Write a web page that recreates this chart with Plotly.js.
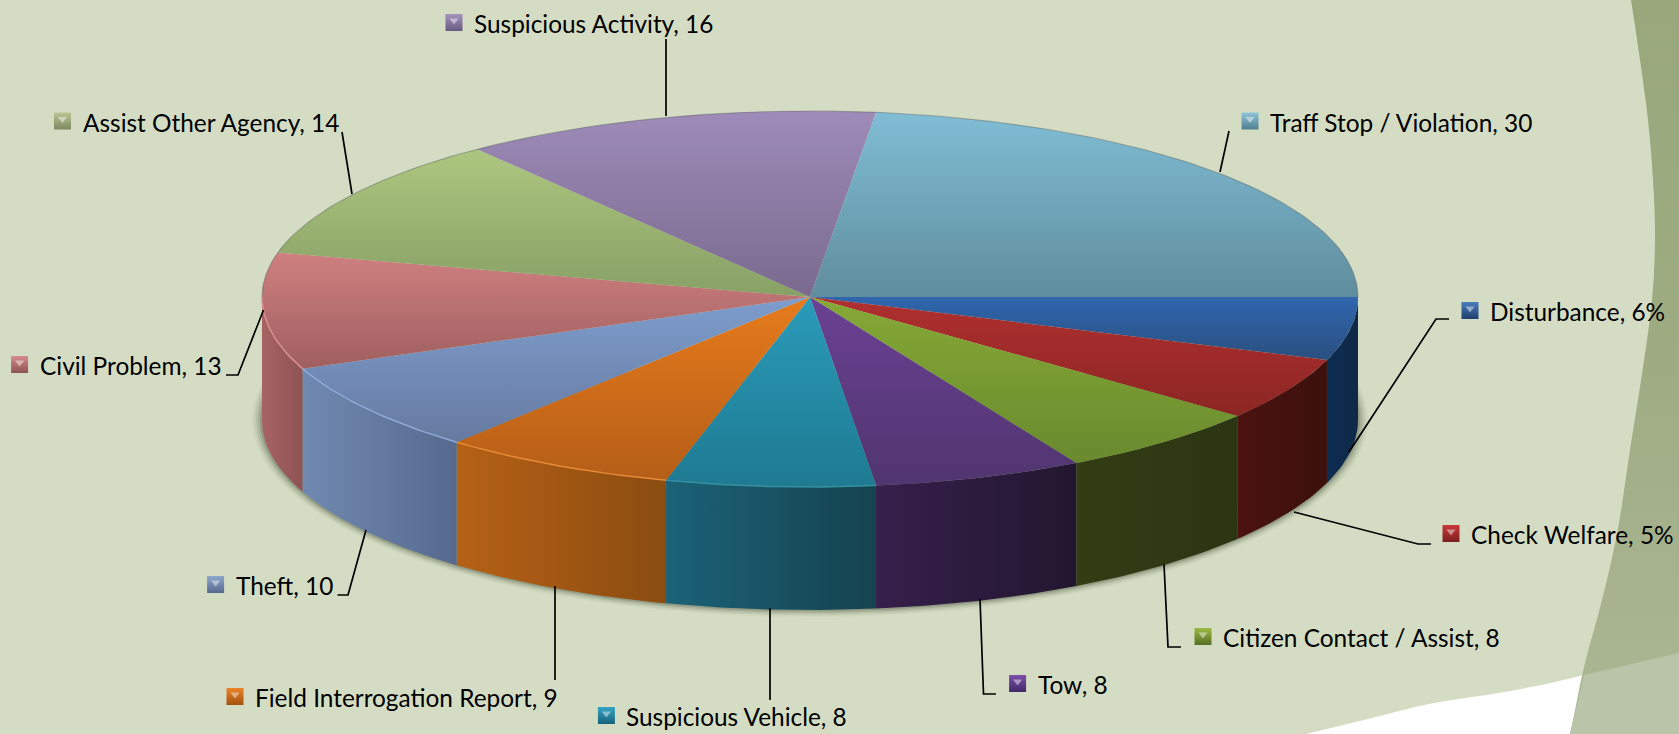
<!DOCTYPE html>
<html>
<head>
<meta charset="utf-8">
<script src="https://cdn.plot.ly/plotly-3.0.1.min.js"></script>
<style>html,body{margin:0;padding:0;background:#d4ddc3;overflow:hidden}#chart{width:1679px;height:734px}</style>
</head>
<body>
<div id="chart"></div>
<script>
// ---------- data ----------
const categories = ["Disturbance","Check Welfare","Citizen Contact / Assist","Tow","Suspicious Vehicle","Field Interrogation Report","Theft","Civil Problem","Assist Other Agency","Suspicious Activity","Traff Stop / Violation"];
const values = [7,7,8,8,8,9,10,13,14,16,30];
const shownValues = ["6%","5%","8","8","8","9","10","13","14","16","30"];

// ---------- style ----------
const faceTop = ["#2f66ad","#b03030","#86a936","#6b4194","#2a9bb9","#e67b1c","#7e9dcd","#cf8080","#adc67f","#9e8bb9","#80bdd5"];
const faceBottom = ["#2a4f80","#8b2623","#698a2e","#50356f","#1f7a92","#b55e18","#667aa0","#a05f60","#87a065","#7a6a8e","#5f8d9d"];
const wallLeft = ["#0c2c52","#4c130f","#333d14","#371f4c","#1b6278","#b66116","#7189b1","#a86363","#000","#000","#000"];
const wallRight = ["#0f2a48","#3b100c","#2c3512","#22172f","#15434f","#8a4c10","#566a8e","#8e5353","#000","#000","#000"];
const rimLight = ["","","","","#35909f","#e88a35","#8eaad8","#d99090","","",""];
const keyTop = ["#4a7dbd","#c9383c","#9cba45","#7a50a8","#35a5c5","#ea8428","#8ea5cc","#d88c8c","#b9c596","#a593bd","#8fc5d8"];
const keyBottom = ["#1f3f6c","#7d1f1f","#556f24","#42296a","#16627c","#a4520f","#566a90","#8e5353","#7d8a60","#675a80","#4f7f90"];

// ---------- layout positions (pixels of the 1679x734 picture) ----------
const labelX = [1488,1469,1221,1035.6,624.4,253,233.6,37.6,80.5,472,1268];
const labelY = [311.5,534.5,637.5,684.5,716.5,697.5,585.5,365.5,122,23.5,122];
const keyOffset = 18;
const leaders = [
  [[1449,319],[1436,319],[1349,452]],
  [[1431,544],[1418,544],[1294,512]],
  [[1181,647],[1168,647],[1164,564]],
  [[996,694],[983.5,694],[980,599]],
  [[770,700],[770,608]],
  [[555,680],[555,586]],
  [[337.5,595],[348,595],[366,530]],
  [[226,375],[238,375],[263.5,310]],
  [[342,132],[352,194]],
  [[666,39],[666,116]],
  [[1229,131],[1220,172]]
];
const cx = 810, cy = 297, rx = 548, ryBack = 186, ryFront = 190, depth = 123;

// ---------- geometry through the axes ----------
const rad = d => d * Math.PI / 180;
const px = a => cx + rx * Math.cos(rad(a));
const py = a => { const s = Math.sin(rad(a)); return cy + (s >= 0 ? ryFront : ryBack) * s; };
const arc = (a0, a1) => { const n = Math.max(2, Math.ceil(Math.abs(a1 - a0))); const o = []; for (let i = 0; i <= n; i++) o.push(a0 + (a1 - a0) * i / n); return o; };
const total = values.reduce((a, b) => a + b, 0);
let run = 0;
const spans = values.map(v => { const s = [run / total * 360, (run + v) / total * 360]; run += v; return s; });

const traces = [];
const bgLine = {width: 0};
const bgSpline = {width: 0, shape: 'spline', smoothing: 1};
// background decoration (corner points sit outside the axis range, so the rounding is clipped away)
traces.push({x:[1240,1306,1368,1429,1510,1584,1660,1660,1240],y:[750,734,719,704,691,675,650,800,800],mode:'lines',line:bgSpline,fill:'toself',fillcolor:'#ffffff',hoverinfo:'skip'});
traces.push({x:[1620,1631,1640,1648,1653,1655,1652,1643,1630,1617,1602,1584,1570,1555,1800,1800,1620],y:[-60,0,60,120,180,240,300,367,450,534,600,667,734,790,790,-60,-60],mode:'lines',line:bgSpline,fill:'toself',fillgradient:{type:'vertical',start:0,stop:734,colorscale:[[0,'#99a77b'],[0.5,'#9fac83'],[1,'#acb794']]},hoverinfo:'skip'});
traces.push({x:[1500,1584,1630,1679,1760,1760,1555,1570,1584],y:[695,675,664,653,640,800,800,734,675],mode:'lines',line:bgLine,fill:'toself',fillcolor:'#bac4a8',hoverinfo:'skip',xaxis:'x',yaxis:'y',visible:false});
traces.push({x:[1584,1630,1679,1679,1570,1584],y:[675,664,653,734,734,675],mode:'lines',line:bgLine,fill:'toself',fillcolor:'#bac4a8',hoverinfo:'skip'});

// soft shadow under the wall
const frontArc = arc(-14, 194);
[[10,.03],[8,.05],[6,.07],[4,.10],[2,.14]].forEach(([g,op]) => {
  const xs = frontArc.map(a => cx + (rx + g) * Math.cos(rad(a)));
  const ys = frontArc.map(a => cy + depth + (ryFront + g*0.7) * Math.sin(rad(a)));
  traces.push({x:xs,y:ys,mode:'lines',line:bgLine,fill:'toself',fillcolor:'rgba(20,25,10,'+op+')',hoverinfo:'skip'});
});

// side walls (front half only)
spans.forEach((s, i) => {
  const a0 = Math.max(s[0], 0), a1 = Math.min(s[1], 180);
  if (a1 <= a0) return;
  const a = arc(a0, a1), r = a.slice().reverse();
  const xs = a.map(px).concat(r.map(px));
  const ys = a.map(py).concat(r.map(t => py(t) + depth));
  xs.push(xs[0]); ys.push(ys[0]);
  traces.push({x:xs,y:ys,mode:'lines',line:bgLine,fill:'toself',name:categories[i],hoverinfo:'skip',
    fillgradient:{type:'horizontal',start:Math.min(px(a0),px(a1)),stop:Math.max(px(a0),px(a1)),colorscale:[[0,wallLeft[i]],[1,wallRight[i]]]}});
});

// top faces
spans.forEach((s, i) => {
  const a = arc(s[0], s[1]);
  const xs = [cx].concat(a.map(px), [cx]);
  const ys = [cy].concat(a.map(py), [cy]);
  const top = Math.min(...ys), bottom = Math.max(...ys);
  traces.push({x:xs,y:ys,mode:'lines',line:bgLine,fill:'toself',name:categories[i],hoverinfo:'skip',
    fillgradient:{type:'vertical',start:top,stop:bottom,colorscale:[[0,faceTop[i]],[1,faceBottom[i]]]}});
});
// rim lines
const backArc = arc(180, 360);
traces.push({x:backArc.map(px),y:backArc.map(py),mode:'lines',line:{color:'rgba(90,100,100,.45)',width:1.1},hoverinfo:'skip'});
spans.forEach((s, i) => {
  if (!rimLight[i]) return;
  const a = arc(s[0], Math.min(s[1], 180));
  traces.push({x:a.map(px),y:a.map(py),mode:'lines',line:{color:rimLight[i],width:1.5},hoverinfo:'skip'});
});
// leader lines
leaders.forEach(l => traces.push({x:l.map(p=>p[0]),y:l.map(p=>p[1]),mode:'lines',line:{color:'#000',width:1.7},hoverinfo:'skip'}));
// legend keys
traces.push({x:labelX.map(v=>v-keyOffset),y:labelY.map(v=>v-1),mode:'markers',hoverinfo:'skip',
  marker:{symbol:'square',size:17,color:keyTop,gradient:{type:'vertical',color:keyBottom},line:{width:0}}});
traces.push({x:labelX.map(v=>v-keyOffset),y:labelY.map(v=>v-3),mode:'markers',hoverinfo:'skip',
  marker:{symbol:'triangle-down',size:8,color:'rgba(255,255,255,.45)',line:{width:0}}});

const annotations = categories.map((c, i) => ({
  x: labelX[i], y: labelY[i], xref:'x', yref:'y', xanchor:'left', yanchor:'middle', showarrow:false,
  text: c + ", " + shownValues[i], font:{family:'Lato, Carlito, sans-serif', size:24.4, color:'#000'}
}));

Plotly.newPlot('chart', traces, {
  width:1679, height:734, margin:{l:0,r:0,t:0,b:0,pad:0}, showlegend:false,
  paper_bgcolor:'#d4ddc3', plot_bgcolor:'#d4ddc3',
  xaxis:{range:[0,1679],visible:false,fixedrange:true},
  yaxis:{range:[734,0],visible:false,fixedrange:true},
  annotations
}, {displayModeBar:false, staticPlot:true});
</script>
</body>
</html>
